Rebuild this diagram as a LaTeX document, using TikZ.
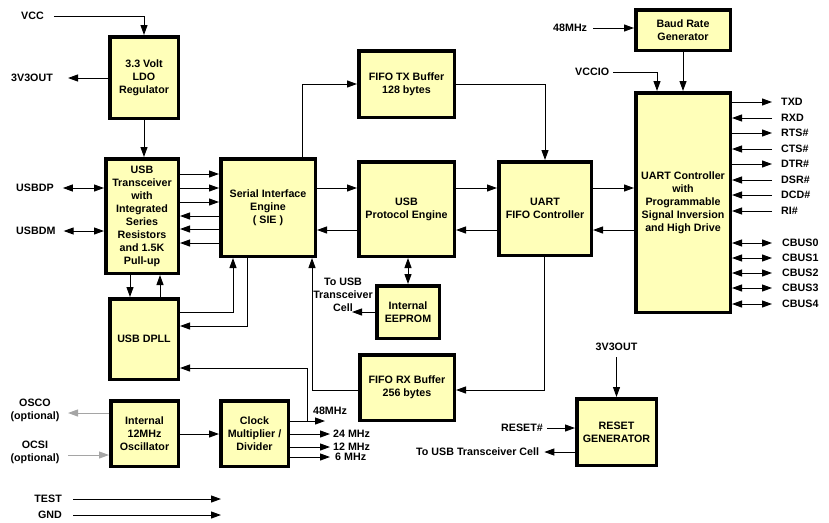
\documentclass[tikz,border=0pt]{standalone}
\usepackage{fontspec}
\setmainfont{Liberation Sans}
\usetikzlibrary{arrows.meta}
\definecolor{boxfill}{RGB}{255,255,185}
\definecolor{grayarr}{RGB}{165,165,165}
\begin{document}
\begin{tikzpicture}[x=1pt,y=-1pt,
  blk/.style={draw,line width=3.5pt,fill=boxfill,align=center,inner sep=0pt,font=\fontsize{10.7}{13}\selectfont\bfseries},
  lbl/.style={inner sep=1pt,text height=7.6pt,text depth=0pt,font=\fontsize{10.7}{13}\selectfont\bfseries},
  mlbl/.style={inner sep=1pt,align=center,font=\fontsize{10.7}{13}\selectfont\bfseries},
  arr/.style={line width=1pt,-{Triangle[length=10pt,width=7pt]}},
  darr/.style={line width=1pt,{Triangle[length=10pt,width=7pt]}-{Triangle[length=10pt,width=7pt]}},
  garr/.style={line width=1pt,draw=grayarr,-{Triangle[length=10pt,width=7pt,fill=grayarr]}}]
\useasboundingbox (0,0) rectangle (829,522);

% blocks
\node[blk,minimum width=68.5pt,minimum height=81.5pt] (ldo) at (144,77.5) {3.3 Volt\\LDO\\Regulator};
\node[blk,minimum width=72.5pt,minimum height=114.5pt] (usbt) at (142,216) {USB\\Transceiver\\with\\Integrated\\Series\\Resistors\\and 1.5K\\Pull-up};
\node[blk,minimum width=94.5pt,minimum height=97.5pt] (sie) at (268,207.5) {Serial Interface\\Engine\\( SIE )};
\node[blk,minimum width=68.5pt,minimum height=80.5pt] (dpll) at (144,339) {USB DPLL};
\node[blk,minimum width=67.5pt,minimum height=65.5pt] (osc) at (144.5,433.5) {Internal\\12MHz\\Oscillator};
\node[blk,minimum width=67.5pt,minimum height=65.5pt] (clk) at (254.5,433.5) {Clock\\Multiplier /\\Divider};
\node[blk,minimum width=95.5pt,minimum height=66.5pt] (fifotx) at (406.5,84) {FIFO TX Buffer\\128 bytes};
\node[blk,minimum width=95.5pt,minimum height=94.5pt] (upe) at (406.5,209) {USB\\Protocol Engine};
\node[blk,minimum width=62.5pt,minimum height=52.5pt] (eeprom) at (408,312) {Internal\\EEPROM};
\node[blk,minimum width=94.5pt,minimum height=65.5pt] (fiforx) at (407,387.5) {FIFO RX Buffer\\256 bytes};
\node[blk,minimum width=92.5pt,minimum height=93.5pt] (ufifo) at (545,208.5) {UART\\FIFO Controller};
\node[blk,minimum width=94.5pt,minimum height=40.5pt] (baud) at (683,30) {Baud Rate\\Generator};
\node[blk,minimum width=94.5pt,minimum height=219.5pt] (uart) at (683,202.5) {UART Controller\\with\\Programmable\\Signal Inversion\\and High Drive};
\node[blk,minimum width=79.5pt,minimum height=66.5pt] (reset) at (616.5,432) {RESET\\GENERATOR};

% left labels
\node[lbl,anchor=west] (vcc) at (20,16) {VCC};
\node[lbl,anchor=west] (v3l) at (10,78) {3V3OUT};
\node[lbl,anchor=west] (usbdp) at (15,188) {USBDP};
\node[lbl,anchor=west] (usbdm) at (15,231) {USBDM};
\node[mlbl] (osco) at (35,410.5) {OSCO\\(optional)};
\node[mlbl] (ocsi) at (35,452.5) {OCSI\\(optional)};
\node[lbl,anchor=east] (test) at (63,499) {TEST};
\node[lbl,anchor=east] (gnd) at (63,515) {GND};
\coordinate (oscoT) at (68,413);
\coordinate (ocsiS) at (68,455);
\coordinate (testT) at (221,499);
\coordinate (gndT) at (221,515);

\draw[arr] ([xshift=9pt]vcc.east) -| (ldo.north);
\draw[arr] (ldo.west |- v3l.east) -- ([xshift=14pt]v3l.east);
\draw[darr] ([xshift=8pt]usbdp.east) -- (usbt.west |- usbdp.east);
\draw[darr] ([xshift=7pt]usbdm.east) -- (usbt.west |- usbdm.east);
\draw[garr] (osc.west |- oscoT) -- (oscoT);
\draw[garr] (ocsiS) -- (osc.west |- ocsiS);
\draw[arr] ([xshift=10pt]test.east) -- (testT);
\draw[arr] ([xshift=10pt]gnd.east) -- (gndT);

% internal connections
\draw[arr] (ldo.south) -- (usbt.north -| ldo.south);
\foreach \yy in {174,188,202} \draw[arr] (usbt.east |- 0,\yy) -- (sie.west |- 0,\yy);
\foreach \yy in {216,229,243} \draw[arr] (sie.west |- 0,\yy) -- (usbt.east |- 0,\yy);
\draw[arr] (usbt.south -| 130,0) -- (dpll.north -| 130,0);
\draw[arr] (dpll.north -| 160,0) -- (usbt.south -| 160,0);
\draw[arr] (dpll.east |- 0,312) -| (sie.south -| 233,0);
\draw[arr] (sie.south -| 247,0) |- (dpll.east |- 0,326);
\draw[arr] (osc.east |- 0,434) -- (clk.west |- 0,434);

% clock outputs
\node[lbl] (m48c) at (330,411) {48MHz};
\coordinate (c48) at (325,421);
\node[lbl,anchor=west] (f24) at (332,434) {24 MHz};
\node[lbl,anchor=west] (f12) at (332,447) {12 MHz};
\node[lbl,anchor=west] (f6) at (334,457) {6 MHz};
\draw[arr] (clk.east |- c48) -- (c48);
\draw[arr] (clk.east |- c48) -| (307,368) -- (dpll.east |- 0,368);
\draw[arr] (clk.east |- f24.west) -- ([xshift=-2pt]f24.west);
\draw[arr] (clk.east |- f12.west) -- ([xshift=-2pt]f12.west);
\draw[arr] (clk.east |- f6.west) -- ([xshift=-4pt]f6.west);

% SIE / buffers / protocol engine
\draw[arr] (sie.north -| 302,0) |- (fifotx.west);
\draw[arr] (fifotx.east) -| (ufifo.north);
\draw[arr] (sie.east |- 0,188) -- (upe.west |- 0,188);
\draw[arr] (upe.west |- 0,230) -- (sie.east |- 0,230);
\draw[arr] (upe.east |- 0,188) -- (ufifo.west |- 0,188);
\draw[arr] (ufifo.west |- 0,230) -- (upe.east |- 0,230);
\draw[arr] (ufifo.east |- 0,188) -- (uart.west |- 0,188);
\draw[arr] (uart.west |- 0,230) -- (ufifo.east |- 0,230);
\draw[darr] (upe.south -| eeprom.north) -- (eeprom.north);
\node[mlbl] (tousb) at (343,294.5) {To USB\\Transceiver\\Cell};
\coordinate (tousbT) at (352,312);
\draw[arr] (eeprom.west |- tousbT) -- (tousbT);
\draw[arr] (fiforx.west |- 0,390) -| (sie.south -| 312,0);
\draw[arr] (ufifo.south -| 544,0) |- (fiforx.east |- 0,390);

% baud / uart
\node[lbl,anchor=west] (m48) at (552,28) {48MHz};
\draw[arr] ([xshift=5pt]m48.east) -- (baud.west |- m48.east);
\draw[arr] (baud.south) -- (uart.north);
\node[lbl,anchor=west] (vccio) at (574,72) {VCCIO};
\draw[arr] ([xshift=3pt]vccio.east) -| ([xshift=23pt]uart.north west);

% uart signals
\node[lbl,anchor=west] (sTXD) at (780,102) {TXD};
\node[lbl,anchor=west] (sRXD) at (780,118) {RXD};
\node[lbl,anchor=west] (sRTS) at (780,133) {RTS\#};
\node[lbl,anchor=west] (sCTS) at (780,149) {CTS\#};
\node[lbl,anchor=west] (sDTR) at (780,164) {DTR\#};
\node[lbl,anchor=west] (sDSR) at (780,180) {DSR\#};
\node[lbl,anchor=west] (sDCD) at (780,195) {DCD\#};
\node[lbl,anchor=west] (sRI) at (780,211) {RI\#};
\foreach \s in {sTXD,sRTS,sDTR} \draw[arr] (uart.east |- \s.west) -- ([xshift=-8pt]\s.west);
\foreach \s in {sRXD,sCTS,sDSR,sDCD,sRI} \draw[arr] ([xshift=-8pt]\s.west) -- (uart.east |- \s.west);
\node[lbl,anchor=west] (cb0) at (781,243) {CBUS0};
\node[lbl,anchor=west] (cb1) at (781,258) {CBUS1};
\node[lbl,anchor=west] (cb2) at (781,273) {CBUS2};
\node[lbl,anchor=west] (cb3) at (781,288) {CBUS3};
\node[lbl,anchor=west] (cb4) at (781,304) {CBUS4};
\foreach \s in {cb0,cb1,cb2,cb3,cb4} \draw[darr] (uart.east |- \s.west) -- ([xshift=-9pt]\s.west);

% reset
\node[lbl] (v3r) at (616.5,347) {3V3OUT};
\draw[arr] ([yshift=-5pt]v3r.south) -- (reset.north);
\node[lbl,anchor=west] (rst) at (500,428) {RESET\#};
\draw[arr] ([xshift=3pt]rst.east) -- (reset.west |- rst.east);
\node[lbl,anchor=west] (tuc) at (415,452) {To USB Transceiver Cell};
\draw[arr] (reset.west |- tuc.east) -- ([xshift=4pt]tuc.east);
\end{tikzpicture}
\end{document}
